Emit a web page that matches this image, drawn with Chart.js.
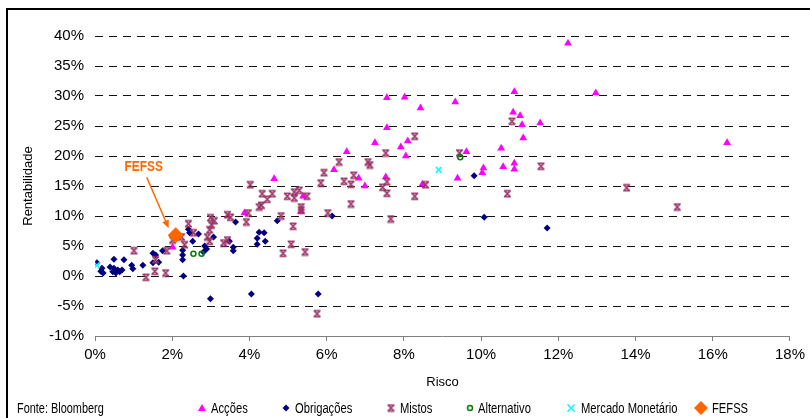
<!DOCTYPE html>
<html>
<head>
<meta charset="utf-8">
<script src="https://cdn.jsdelivr.net/npm/chart.js@4.4.1/dist/chart.umd.min.js"></script>
<style>
  html, body { margin: 0; padding: 0; background: #fff; }
  #wrap { width: 810px; height: 418px; position: relative; }
</style>
</head>
<body>
<div id="wrap"><canvas id="c" width="810" height="418"></canvas></div>
<script>
// Risco (x, %) vs Rentabilidade (y, %) por tipo de fundo
const accoes = [
  [2.01,4.8],[4.64,16.2],[3.87,10.5],[5.39,13.3],[5.34,10.7],[7.56,29.7],[8.02,29.8],
  [8.43,28.0],[7.56,24.7],[7.25,22.2],[6.52,20.7],[8.10,22.5],[7.92,21.5],[8.05,20.0],
  [6.19,17.7],[6.83,16.3],[6.99,15.0],[7.53,16.5],[8.48,15.3],[9.33,29.0],[9.62,20.7],
  [10.06,18.0],[10.03,17.2],[9.39,16.3],[10.52,21.3],[10.57,18.2],[10.86,18.8],[10.86,17.8],
  [10.86,30.7],[10.83,27.3],[11.01,26.7],[11.06,25.2],[11.53,25.5],[11.09,23.0],[12.25,38.8],
  [12.97,30.5],[16.37,22.2]
];
const obrigacoes = [
  [0.05,2.2],[0.18,1.3],[0.21,0.5],[0.15,0.8],[0.39,1.5],[0.49,1.3],[0.59,1.0],[0.46,0.7],
  [0.64,0.7],[0.54,0.5],[0.70,1.0],[0.49,2.8],[0.75,2.7],[0.95,1.8],[0.98,1.2],[1.24,1.8],
  [1.50,3.8],[1.57,3.5],[1.50,2.2],[1.65,2.3],[1.75,4.2],[2.27,4.3],[2.27,3.5],[2.27,2.7],
  [2.29,0.0],[2.42,7.8],[2.45,7.2],[2.53,5.8],[2.68,7.0],[2.84,5.0],[2.89,4.5],[2.81,4.0],
  [3.07,6.5],[2.99,-3.8],[3.64,9.0],[3.48,5.8],[3.58,4.8],[3.58,4.2],[4.05,-3.0],[4.25,7.3],
  [4.38,7.2],[4.20,6.3],[4.41,5.8],[4.20,5.3],[4.72,9.2],[5.78,-3.0],[6.14,10.0],[9.82,16.7],
  [10.08,9.8],[11.71,8.0]
];
const mistos = [
  [1.01,4.2],[1.32,-0.2],[1.57,2.7],[1.55,0.8],[1.83,0.5],[1.86,4.2],[2.01,6.0],[2.24,6.5],
  [2.32,5.2],[2.42,8.7],[2.55,7.2],[2.99,9.7],[3.09,9.2],[3.02,8.5],[2.97,7.7],[2.91,6.5],
  [2.97,5.8],[3.43,10.2],[3.51,9.8],[3.43,6.0],[3.33,5.5],[4.02,15.2],[4.33,13.7],[4.59,13.7],
  [4.46,12.8],[4.31,11.8],[4.25,11.5],[3.97,10.5],[3.92,9.0],[4.98,13.3],[5.16,14.0],[5.16,13.0],
  [5.29,14.3],[5.49,13.3],[5.34,11.5],[5.34,11.0],[5.13,8.3],[4.82,10.0],[5.08,5.3],[4.87,3.8],
  [5.44,4.0],[8.28,23.3],[7.53,20.5],[6.32,19.0],[7.07,19.0],[7.12,18.5],[5.93,17.2],[5.85,15.5],
  [6.45,15.8],[6.63,15.3],[6.70,16.8],[7.45,14.8],[7.56,15.7],[7.56,13.8],[8.28,13.3],[6.63,12.0],
  [6.03,10.5],[7.66,9.5],[5.75,-6.3],[10.80,25.8],[9.44,20.5],[11.55,18.3],[8.56,15.2],[10.68,13.7],
  [13.77,14.7],[15.08,11.5]
];
const alternativo = [[2.55,3.7],[2.76,3.7],[9.46,19.8]];
const mercadoMonetario = [[0.05,1.8],[8.90,17.7]];
const fefss = [[2.09,6.8]];

const seriesNames = ['Acções','Obrigações','Mistos','Alternativo','Mercado Monetário','FEFSS'];
const xTickValues = [0,2,4,6,8,10,12,14,16,18];
const yTickValues = [-10,-5,0,5,10,15,20,25,30,35,40];

const COL = {
  accoes: '#FF00FF', obrig: '#000080', mistos: '#993366',
  alt: '#008000', mm: '#00FFFF', fefss: '#FF6600'
};
const FONT = '"Liberation Sans", Arial, sans-serif';

const toPts = arr => arr.map(p => ({x: p[0], y: p[1]}));

// text drawn with a horizontal squeeze (condensed look)
function fillCondensed(ctx, text, x, y, sx) {
  ctx.save();
  ctx.translate(x, y);
  ctx.scale(sx, 1);
  ctx.fillText(text, 0, 0);
  ctx.restore();
}

// star-like marker used for the "Mistos" series
function mistosMarker(color, size) {
  const c = document.createElement('canvas');
  c.width = size; c.height = size;
  const g = c.getContext('2d');
  g.strokeStyle = color;
  g.lineWidth = 1.6;
  const a = 1.5, b = size - 1.5;
  g.beginPath();
  g.moveTo(a, a); g.lineTo(b, b);
  g.moveTo(b, a); g.lineTo(a, b);
  g.moveTo(a - 0.5, a); g.lineTo(b + 0.5, a);
  g.moveTo(a - 0.5, b); g.lineTo(b + 0.5, b);
  g.stroke();
  return c;
}
const mistosImg = mistosMarker(COL.mistos, 9);

function drawLegendMarker(ctx, kind, x, y) {
  ctx.save();
  ctx.lineWidth = 1;
  if (kind === 'tri') {
    ctx.fillStyle = COL.accoes;
    ctx.beginPath(); ctx.moveTo(x, y - 4); ctx.lineTo(x + 4, y + 3); ctx.lineTo(x - 4, y + 3); ctx.closePath(); ctx.fill();
  } else if (kind === 'dia') {
    ctx.fillStyle = COL.obrig;
    ctx.beginPath(); ctx.moveTo(x, y - 3.5); ctx.lineTo(x + 3.5, y); ctx.lineTo(x, y + 3.5); ctx.lineTo(x - 3.5, y); ctx.closePath(); ctx.fill();
  } else if (kind === 'mis') {
    ctx.drawImage(mistosImg, x - 4.5, y - 4.5);
  } else if (kind === 'circ') {
    ctx.strokeStyle = COL.alt; ctx.lineWidth = 1.5;
    ctx.beginPath(); ctx.arc(x, y, 2.5, 0, Math.PI * 2); ctx.stroke();
  } else if (kind === 'x') {
    ctx.strokeStyle = COL.mm; ctx.lineWidth = 1.5;
    ctx.beginPath(); ctx.moveTo(x - 3.5, y - 3.5); ctx.lineTo(x + 3.5, y + 3.5);
    ctx.moveTo(x + 3.5, y - 3.5); ctx.lineTo(x - 3.5, y + 3.5); ctx.stroke();
  } else if (kind === 'big') {
    ctx.fillStyle = COL.fefss;
    ctx.beginPath(); ctx.moveTo(x, y - 7); ctx.lineTo(x + 7, y); ctx.lineTo(x, y + 7); ctx.lineTo(x - 7, y); ctx.closePath(); ctx.fill();
  }
  ctx.restore();
}

const decor = {
  id: 'decor',
  beforeDraw(chart) {
    const ctx = chart.ctx;
    ctx.save();
    ctx.fillStyle = '#fff';
    ctx.fillRect(0, 0, chart.width, chart.height);
    ctx.strokeStyle = '#000';
    ctx.lineWidth = 2;
    ctx.beginPath();
    ctx.moveTo(7, chart.height); ctx.lineTo(7, 9); ctx.lineTo(chart.width, 9);
    ctx.stroke();
    ctx.restore();
  },
  afterDatasetsDraw(chart) {
    // label and arrow pointing at the FEFSS point
    const ctx = chart.ctx;
    const xs = chart.scales.x, ys = chart.scales.y;
    const px = xs.getPixelForValue(fefss[0][0]);
    const py = ys.getPixelForValue(fefss[0][1]);
    const sx = px - 29, sy = py - 58;
    const tx = px - 7, ty = py - 7;
    const ang = Math.atan2(ty - sy, tx - sx);
    ctx.save();
    ctx.strokeStyle = COL.fefss; ctx.fillStyle = COL.fefss;
    ctx.lineWidth = 1.5;
    ctx.beginPath();
    ctx.moveTo(sx, sy);
    ctx.lineTo(tx - 7 * Math.cos(ang), ty - 7 * Math.sin(ang));
    ctx.stroke();
    ctx.beginPath();
    ctx.moveTo(tx, ty);
    ctx.lineTo(tx - 8 * Math.cos(ang) + 3.5 * Math.sin(ang), ty - 8 * Math.sin(ang) - 3.5 * Math.cos(ang));
    ctx.lineTo(tx - 8 * Math.cos(ang) - 3.5 * Math.sin(ang), ty - 8 * Math.sin(ang) + 3.5 * Math.cos(ang));
    ctx.closePath(); ctx.fill();
    ctx.font = 'bold 14px ' + FONT;
    ctx.textAlign = 'center'; ctx.textBaseline = 'middle';
    fillCondensed(ctx, 'FEFSS', px - 32, py - 68, 0.85);
    ctx.restore();
  },
  afterDraw(chart) {
    const ctx = chart.ctx;
    const y = 409;
    ctx.save();
    ctx.fillStyle = '#000';
    ctx.font = '14px ' + FONT;
    ctx.textBaseline = 'middle';
    ctx.textAlign = 'left';
    fillCondensed(ctx, 'Fonte: Bloomberg', 17, y, 0.78);
    const items = [
      ['tri', 202, 211], ['dia', 286, 295], ['mis', 391, 400],
      ['circ', 470, 478], ['x', 571, 581], ['big', 701, 712]
    ];
    items.forEach((it, i) => {
      drawLegendMarker(ctx, it[0], it[1], y - 1);
      ctx.fillStyle = '#000';
      fillCondensed(ctx, seriesNames[i], it[2], y, 0.8);
    });
    ctx.restore();
  }
};

new Chart(document.getElementById('c'), {
  type: 'scatter',
  data: {
    datasets: [
      { label: seriesNames[0], data: toPts(accoes), order: 5, pointStyle: 'triangle', pointRadius: 4.5,
        backgroundColor: COL.accoes, borderColor: COL.accoes, borderWidth: 0 },
      { label: seriesNames[1], data: toPts(obrigacoes), order: 4, pointStyle: 'rectRot', pointRadius: 3.5,
        backgroundColor: COL.obrig, borderColor: COL.obrig, borderWidth: 0 },
      { label: seriesNames[2], data: toPts(mistos), order: 3, pointStyle: mistosImg, pointRadius: 4.5,
        backgroundColor: COL.mistos, borderColor: COL.mistos },
      { label: seriesNames[3], data: toPts(alternativo), order: 2, pointStyle: 'circle', pointRadius: 2.5,
        backgroundColor: 'rgba(0,0,0,0)', borderColor: COL.alt, borderWidth: 1.5 },
      { label: seriesNames[4], data: toPts(mercadoMonetario), order: 1, pointStyle: 'crossRot', pointRadius: 4,
        backgroundColor: COL.mm, borderColor: COL.mm, borderWidth: 1.5 },
      { label: seriesNames[5], data: toPts(fefss), order: 0, pointStyle: 'rectRot', pointRadius: 8,
        backgroundColor: COL.fefss, borderColor: COL.fefss, borderWidth: 0 }
    ]
  },
  options: {
    responsive: false,
    animation: false,
    events: [],
    layout: { padding: { left: 8, top: 36, right: 17, bottom: 0 } },
    plugins: { legend: { display: false }, tooltip: { enabled: false } },
    scales: {
      x: {
        type: 'linear', min: 0, max: 18,
        afterBuildTicks: s => { s.ticks = xTickValues.map(v => ({ value: v })); },
        afterFit: s => { s.height = 82; },
        ticks: { color: '#000', font: { family: FONT, size: 15 }, padding: 5, maxRotation: 0,
                 callback: v => v + '%' },
        grid: { drawOnChartArea: false, drawTicks: true, tickLength: 5, color: '#808080', lineWidth: 1 },
        border: { display: true, color: '#808080', width: 1 },
        title: { display: true, text: 'Risco', color: '#000', font: { family: FONT, size: 13 },
                 padding: { top: 0, bottom: 28 } }
      },
      y: {
        type: 'linear', min: -10, max: 40,
        afterBuildTicks: s => { s.ticks = yTickValues.map(v => ({ value: v })); },
        afterFit: s => { s.width = 87; },
        ticks: { color: '#000', font: { family: FONT, size: 15 }, padding: 11,
                 callback: v => v + '%' },
        grid: { drawTicks: false, lineWidth: 1,
                color: c => (c.tick && c.tick.value === -10) ? 'rgba(0,0,0,0)' : '#111' },
        border: { display: false, dash: [8, 6] },
        title: { display: true, text: 'Rentabilidade', color: '#000', font: { family: FONT, size: 13 },
                 padding: { top: 13, bottom: 0 } }
      }
    }
  },
  plugins: [decor]
});
</script>
</body>
</html>
